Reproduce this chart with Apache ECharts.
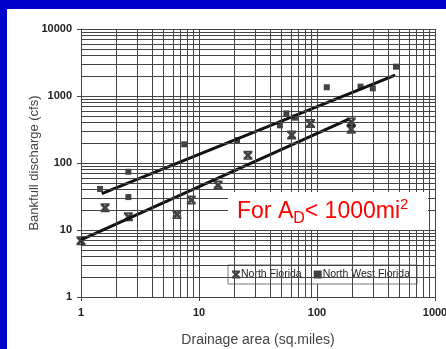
<!DOCTYPE html>
<html>
<head>
<meta charset="utf-8">
<script src="https://cdn.jsdelivr.net/npm/echarts@6/dist/echarts.min.js"></script>
<style>
  html, body { margin: 0; padding: 0; }
  body { width: 446px; height: 349px; background: #0000cc; position: relative; overflow: hidden; }
  #chart { position: absolute; left: 7px; top: 9px; width: 439px; height: 340px; background: #fff; }
</style>
</head>
<body>
<div id="chart"></div>
<script>
// North Florida (X markers)
var nfArea = [1, 1.6, 2.52, 6.5, 8.6, 14.5, 26, 61, 88, 195, 195]
var nfQ = [6.9, 21.5, 15.8, 17, 28, 47, 130, 262, 390, 410, 320]
// North West Florida (squares)
var nwfArea = [1.45, 2.52, 2.52, 7.5, 21, 48.5, 55, 65, 121, 234, 297, 467]
var nwfQ = [41, 74, 31, 190, 220, 365, 550, 475, 1350, 1380, 1300, 2740]
// fitted lines (end points)
var nfFitArea = [1, 186]
var nfFitQ = [7.1, 450]
var nwfFitArea = [1.5, 460]
var nwfFitQ = [35, 2050]
// major decades
var xTicks = [1, 10, 100, 1000]
var yTicks = [1, 10, 100, 1000, 10000]

// minor gridlines 2..9 per decade
function minorLines(ticks, key) {
  var out = []
  for (var i = 0; i < ticks.length - 1; i++) {
    for (var k = 2; k <= 9; k++) {
      var o = {}
      o[key] = ticks[i] * k
      out.push(o)
    }
  }
  return out
}
function pairs(a, b) {
  return a.map(function(v, i) { return [v, b[i]] })
}

var xMark = 'path://M0,0H10V1.8H0Z M0,8.2H10V10H0Z M0,0L2.2,0L10,7.8L10,10L7.8,10L0,2.2Z M10,0L10,2.2L2.2,10L0,10L0,7.8L7.8,0Z'
var gridCol = '#444'
var labelStyle = {
  color: '#222', fontSize: 11, fontFamily: 'Liberation Sans, Arial', fontWeight: 'bold',
  formatter: function(v) { return String(Math.round(v)) }
}

var chart = echarts.init(document.getElementById('chart'))
var option = {
  animation: false,
  grid: { left: 74, top: 20, right: 11, bottom: 52, outerBoundsMode: 'none', containLabel: false },
  legend: {
    left: 221, top: 256,
    orient: 'horizontal',
    data: [
      { name: 'North Florida', icon: xMark },
      { name: 'North West Florida', icon: 'rect' }
    ],
    itemWidth: 8, itemHeight: 8, itemGap: 12,
    padding: [4, 7, 4, 4],
    backgroundColor: '#fff',
    borderColor: '#777', borderWidth: 1,
    textStyle: { color: '#222', fontSize: 10.5, fontFamily: 'Liberation Sans, Arial', padding: [0, 0, 0, -4] }
  },
  xAxis: {
    type: 'log', logBase: 10, min: 1, max: 1000,
    name: 'Drainage area (sq.miles)', nameLocation: 'middle', nameGap: 36,
    nameMoveOverlap: false,
    nameTextStyle: { color: '#444', fontSize: 14, fontFamily: 'Liberation Sans, Arial' },
    axisLine: { lineStyle: { color: '#444', width: 1 } },
    axisTick: { show: true, length: 4, lineStyle: { color: '#444' } },
    axisLabel: Object.assign({ margin: 10 }, labelStyle),
    splitLine: { show: true, lineStyle: { color: gridCol, width: 1 } }
  },
  yAxis: {
    type: 'log', logBase: 10, min: 1, max: 10000,
    name: 'Bankfull discharge (cfs)', nameLocation: 'middle', nameGap: 40,
    nameMoveOverlap: false,
    nameTextStyle: { color: '#444', fontSize: 13, fontFamily: 'Liberation Sans, Arial' },
    axisLine: { show: true, lineStyle: { color: '#444', width: 1 } },
    axisTick: { show: true, length: 4, lineStyle: { color: '#444' } },
    axisLabel: Object.assign({ margin: 9 }, labelStyle),
    splitLine: { show: true, lineStyle: { color: gridCol, width: 1 } }
  },
  series: [
    {
      name: 'minor grid',
      type: 'line',
      data: [],
      silent: true,
      markLine: {
        silent: true, symbol: 'none', label: { show: false },
        lineStyle: { color: gridCol, width: 1, type: 'solid' },
        data: minorLines(xTicks, 'xAxis').concat(minorLines(yTicks, 'yAxis'))
      }
    },
    {
      name: 'North Florida fit',
      type: 'line',
      data: pairs(nfFitArea, nfFitQ),
      showSymbol: false,
      lineStyle: { color: '#111', width: 3 },
      z: 3
    },
    {
      name: 'North West Florida fit',
      type: 'line',
      data: pairs(nwfFitArea, nwfFitQ),
      showSymbol: false,
      lineStyle: { color: '#111', width: 3 },
      z: 3
    },
    {
      name: 'North Florida',
      type: 'scatter',
      data: pairs(nfArea, nfQ),
      symbol: xMark,
      symbolSize: 9,
      itemStyle: { color: '#111' },
      z: 4
    },
    {
      name: 'North West Florida',
      type: 'scatter',
      data: pairs(nwfArea, nwfQ),
      symbol: 'rect',
      symbolSize: 6,
      itemStyle: { color: '#111' },
      z: 4
    }
  ],
  graphic: [
    {
      type: 'rect',
      left: 221, top: 183,
      shape: { width: 200, height: 38 },
      style: { fill: '#fff' },
      z: 10
    },
    {
      type: 'text',
      left: 230, top: 188,
      style: {
        text: '{n|For A}{sub|D}{n|< 1000mi}{sup|2}',
        rich: {
          n: { fontSize: 23, lineHeight: 30, fill: '#ff0000', fontFamily: 'Liberation Sans, Arial', verticalAlign: 'middle' },
          sub: { fontSize: 16, lineHeight: 14, fill: '#ff0000', fontFamily: 'Liberation Sans, Arial', verticalAlign: 'bottom' },
          sup: { fontSize: 15, lineHeight: 15, fill: '#ff0000', fontFamily: 'Liberation Sans, Arial', verticalAlign: 'top' }
        }
      },
      z: 11
    }
  ]
}
chart.setOption(option)
</script>
</body>
</html>
